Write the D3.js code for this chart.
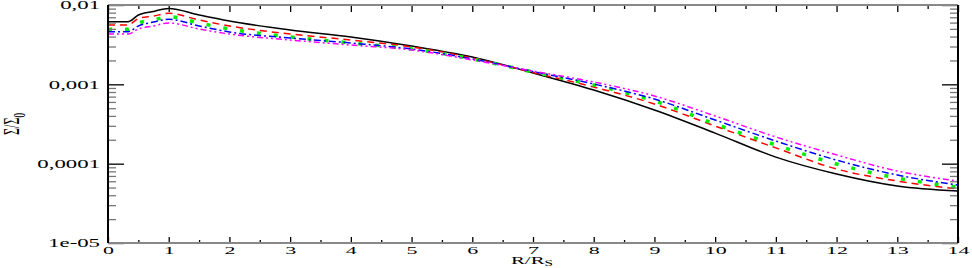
<!DOCTYPE html>
<html>
<head>
<meta charset="utf-8">
<script src="https://cdn.jsdelivr.net/npm/d3@7"></script>
<style>
  body { margin: 0; background: #fff; }
  svg { display: block; font-family: "Liberation Serif", "DejaVu Serif", serif; }
</style>
</head>
<body>
<svg id="chart" width="972" height="268"></svg>
<script>
// radius in units of R_S
let radius = [0, 0.33, 0.5, 0.75, 1, 1.5, 2, 3, 4, 5, 6, 7, 8, 9, 10, 11, 12, 13, 14];

// surface density Sigma/Sigma_0, one array per curve
let sigmaBlack = [0.00616, 0.00616, 0.00748, 0.0083, 0.00904, 0.00748, 0.00628, 0.00484, 0.00395, 0.00304, 0.00221, 0.00139, 0.000848, 0.000475, 0.000243, 0.000121, 0.0000741, 0.0000523, 0.0000452];
let sigmaRed = [0.0056, 0.0056, 0.00676, 0.00727, 0.00786, 0.00647, 0.00544, 0.00431, 0.00362, 0.00296, 0.00215, 0.00141, 0.000926, 0.000565, 0.000298, 0.000158, 0.0000856, 0.0000604, 0.0000479];
let sigmaGreen = [0.00494, 0.00494, 0.00593, 0.00647, 0.00712, 0.00593, 0.00498, 0.00395, 0.00332, 0.00279, 0.00209, 0.00143, 0.000981, 0.000617, 0.000316, 0.000172, 0.000099, 0.0000659, 0.0000508];
let sigmaBlue = [0.00461, 0.00461, 0.00544, 0.0061, 0.0066, 0.00544, 0.00457, 0.00384, 0.00332, 0.00279, 0.00209, 0.00145, 0.00101, 0.000653, 0.000355, 0.000193, 0.000111, 0.000072, 0.0000538];
let sigmaMagenta = [0.00431, 0.00431, 0.00498, 0.00544, 0.00593, 0.00498, 0.00431, 0.00362, 0.00313, 0.00271, 0.00203, 0.00147, 0.00107, 0.000713, 0.000399, 0.000217, 0.000129, 0.0000808, 0.0000604];

let xTicks = [0, 1, 2, 3, 4, 5, 6, 7, 8, 9, 10, 11, 12, 13, 14];
let yTicks = [0.01, 0.001, 0.0001, 0.00001];
let yTickLabels = ["0,01", "0,001", "0,0001", "1e-05"];

let series = [
	{values: sigmaBlack, color: "#000000", width: 1.5, dash: null},
	{values: sigmaRed, color: "#ff0000", width: 1.5, dash: "7,5"},
	{values: sigmaGreen, color: "#00ee00", width: 3.5, dash: "4,13"},
	{values: sigmaBlue, color: "#0000ff", width: 1.5, dash: "7,3,2,3"},
	{values: sigmaMagenta, color: "#ff00ff", width: 1.5, dash: "6,3,2,3,2,3"}
];

let margin = ({top: 5, right: 14, bottom: 25, left: 108});
let width = 972;
let height = 268;
let stretch = 1.9;   // text in the original is stretched horizontally

const svg = d3.select("#chart");

const x = d3.scaleLinear()
			.domain([0, 14])
			.range([margin.left, width - margin.right]);

const y = d3.scaleLog()
			.domain([1e-5, 0.01])
			.range([height - margin.bottom, margin.top]);

// minor tick positions
let xMinor = d3.range(0.5, 14, 1);
let yMinor = [];
yTicks.slice(1).forEach(t => {
	for (let k = 2; k <= 9; k++) yMinor.push(t * k);
});

// curves
const line = d3.line()
			   .x((d, i) => x(radius[i]))
			   .y(d => y(d))
			   .curve(d3.curveMonotoneX);

const gLines = svg.append("g").attr("fill", "none");

series.forEach(s => {
	gLines.append("path")
		  .attr("d", line(s.values))
		  .attr("stroke", s.color)
		  .attr("stroke-width", s.width)
		  .attr("stroke-dasharray", s.dash);
});

function styleAxis(g, color) {
	g.select(".domain").remove();
	g.selectAll("line").attr("stroke", color).attr("stroke-width", 1.3);
}

// bottom axis
svg.append("g")
   .attr("transform", `translate(0,${y.range()[0]})`)
   .call(d3.axisBottom(x).tickValues(xTicks).tickSize(-6).tickPadding(3).tickFormat(d3.format("d")))
   .call(g => styleAxis(g, "#000"))
   .call(g => g.selectAll("text")
			   .attr("font-size", 11)
			   .attr("font-family", "Liberation Serif")
			   .attr("fill", "#000")
			   .attr("transform", `scale(2,1)`));

svg.append("g")
   .attr("transform", `translate(0,${y.range()[0]})`)
   .call(d3.axisBottom(x).tickValues(xMinor).tickSize(-3).tickFormat(""))
   .call(g => styleAxis(g, "#000"));

// top axis
svg.append("g")
   .attr("transform", `translate(0,${y.range()[1]})`)
   .call(d3.axisTop(x).tickValues(xTicks).tickSize(-7).tickFormat(""))
   .call(g => styleAxis(g, "#000"));

svg.append("g")
   .attr("transform", `translate(0,${y.range()[1]})`)
   .call(d3.axisTop(x).tickValues(xMinor).tickSize(-4).tickFormat(""))
   .call(g => styleAxis(g, "#000"));

// left axis
svg.append("g")
   .attr("transform", `translate(${x.range()[0]},0)`)
   .call(d3.axisLeft(y).tickValues(yTicks).tickSize(-16).tickPadding(4.2).tickFormat((d, i) => yTickLabels[i]))
   .call(g => styleAxis(g, "#000"))
   .call(g => g.selectAll("text")
			   .attr("font-size", 12)
			   .attr("font-family", "Liberation Serif")
			   .attr("fill", "#000")
			   .attr("transform", `scale(${stretch},1)`));

svg.append("g")
   .attr("transform", `translate(${x.range()[0]},0)`)
   .call(d3.axisLeft(y).tickValues(yMinor).tickSize(-8).tickFormat(""))
   .call(g => styleAxis(g, "#777"));

// right axis
svg.append("g")
   .attr("transform", `translate(${x.range()[1]},0)`)
   .call(d3.axisRight(y).tickValues(yTicks).tickSize(-16).tickFormat(""))
   .call(g => styleAxis(g, "#000"));

svg.append("g")
   .attr("transform", `translate(${x.range()[1]},0)`)
   .call(d3.axisRight(y).tickValues(yMinor).tickSize(-8).tickFormat(""))
   .call(g => styleAxis(g, "#777"));

// frame: grey top/bottom, black sides
const frame = svg.append("g").attr("stroke-width", 2);
frame.append("line")
	 .attr("x1", x.range()[0]).attr("x2", x.range()[1])
	 .attr("y1", y.range()[1]).attr("y2", y.range()[1])
	 .attr("stroke", "#888");
frame.append("line")
	 .attr("x1", x.range()[0]).attr("x2", x.range()[1])
	 .attr("y1", y.range()[0]).attr("y2", y.range()[0])
	 .attr("stroke", "#888");
frame.append("line")
	 .attr("x1", x.range()[0]).attr("x2", x.range()[0])
	 .attr("y1", y.range()[1]).attr("y2", y.range()[0])
	 .attr("stroke", "#000");
frame.append("line")
	 .attr("x1", x.range()[1]).attr("x2", x.range()[1])
	 .attr("y1", y.range()[1]).attr("y2", y.range()[0])
	 .attr("stroke", "#000");

// axis titles
const xTitle = svg.append("text")
				  .attr("transform", `translate(532,264) scale(${stretch},1)`)
				  .attr("text-anchor", "middle")
				  .attr("font-size", 11);
xTitle.append("tspan").text("R/R");
xTitle.append("tspan").attr("font-size", 8).attr("dy", 2).text("S");

const yTitle = svg.append("text")
				  .attr("transform", `translate(19,124) rotate(-90) scale(1,${stretch})`)
				  .attr("text-anchor", "middle")
				  .attr("font-size", 12);
yTitle.append("tspan").text("Σ/Σ");
yTitle.append("tspan").attr("font-size", 9).attr("dy", 3).text("0");
</script>
</body>
</html>
